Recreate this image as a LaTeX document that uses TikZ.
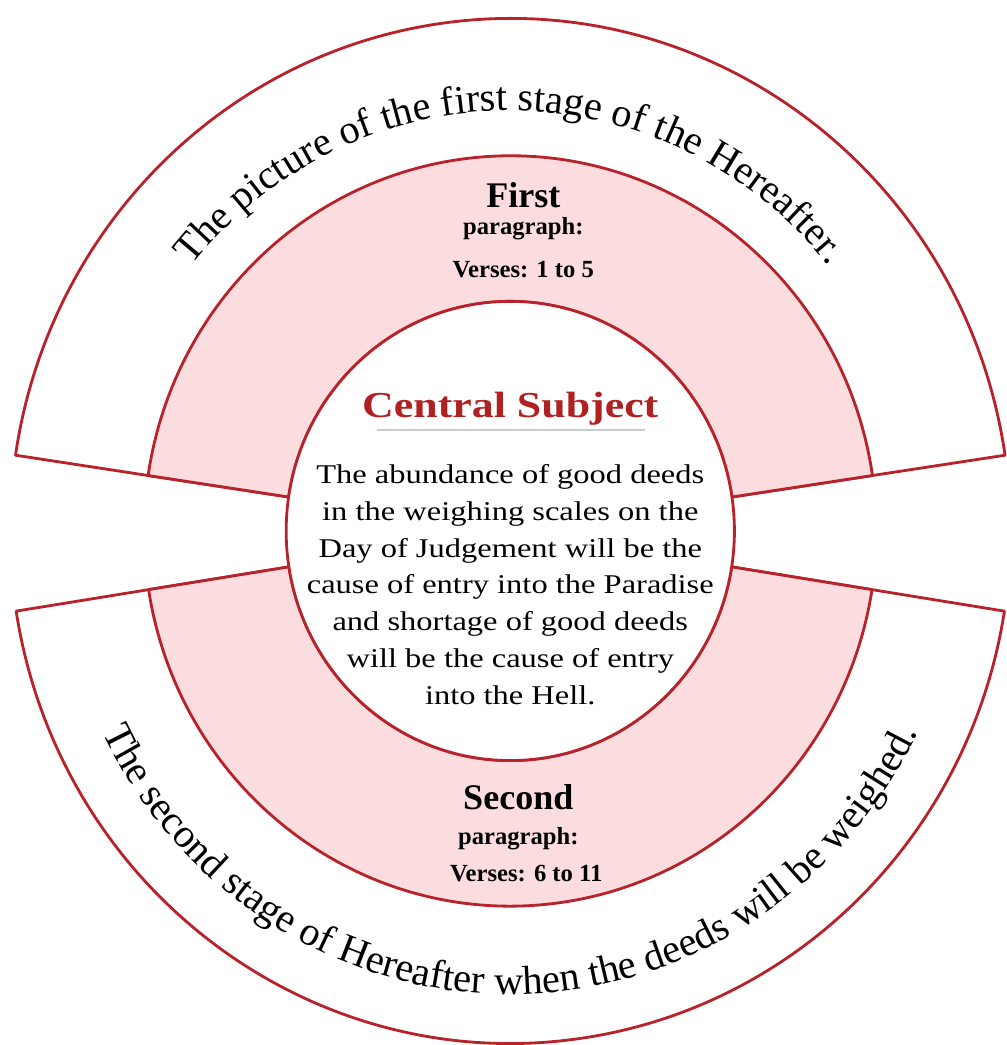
\documentclass[tikz,border=0pt]{standalone}
\usepackage{fontspec}
\setmainfont{Liberation Serif}
\newfontfamily\widefont{Liberation Serif}[FakeStretch=1.2]
\usetikzlibrary{decorations.text}

\definecolor{ringred}{RGB}{184,34,42}
\definecolor{ringpink}{RGB}{252,221,223}
\definecolor{titlered}{RGB}{176,34,34}
\newcommand\arcfont{\fontsize{23}{23}\selectfont}

\tikzset{
    ringline/.style={draw=ringred, line width=1.6pt, line join=round},
    whiteband/.style={ringline, fill=white},
    pinkband/.style={ringline, fill=ringpink},
    bandhead/.style={font=\bfseries\fontsize{20.5}{20.5}\selectfont, anchor=base},
    bandsub/.style={font=\bfseries\fontsize{14}{14}\selectfont, anchor=base},
    arctext/.style={decorate, decoration={text along path, text align=center, text={|\arcfont|#1}}}
}

\begin{document}
\begin{tikzpicture}[x=0.02cm, y=0.0205cm]
        \fill[white] (-510,-501.5) rectangle (496,518);
        \useasboundingbox (-510,-501.5) rectangle (496,518);

        %%%%%%%% Meta' sopra %%%%%%%%
        \draw[whiteband] (8.5:224) -- (8.5:500) arc[start angle=8.5, end angle=171.5, radius=500] -- (171.5:224) arc[start angle=171.5, end angle=8.5, radius=224] -- cycle;
        \draw[pinkband] (8.5:224) -- (8.5:366) arc[start angle=8.5, end angle=171.5, radius=366] -- (171.5:224) arc[start angle=171.5, end angle=8.5, radius=224] -- cycle;

        %%%%%%%% Meta' sotto %%%%%%%%
        \draw[whiteband] (189:224) -- (189:500) arc[start angle=189, end angle=351, radius=500] -- (351:224) arc[start angle=351, end angle=189, radius=224] -- cycle;
        \draw[pinkband] (189:224) -- (189:366) arc[start angle=189, end angle=351, radius=366] -- (351:224) arc[start angle=351, end angle=189, radius=224] -- cycle;

        %%%%%%%%% Cerchio %%%%%%%%%
        \draw[whiteband] (0,0) circle (224);

        %%%%%%%%% Centro %%%%%%%%%%
        \node[font=\widefont\bfseries\fontsize{20.8}{20.8}\selectfont, text=titlered, anchor=base] (title) at (0,110.2) {Central Subject};
        \draw[black!20, line width=1pt] (-133,98.5) -- (135,98.5);
        \node[font=\widefont\fontsize{15.4}{20.9}\selectfont, align=center] (summary) at (0,-52.2)
            {The abundance of good deeds\\ in the weighing scales on the\\ Day of Judgement will be the\\ cause of entry into the Paradise\\ and shortage of good deeds\\ will be the cause of entry\\ into the Hell.};

        %%%%%%%% Paragrafi %%%%%%%%
        \node[bandhead] (firsthead) at (13,315.1) {First};
        \node[bandsub] (firstsub) at (13,288.8) {paragraph:};
        \node[bandsub] (firstverses) at (13,246.8) {Verses: 1 to 5};
        \node[bandhead] (secondhead) at (8,-272.2) {Second};
        \node[bandsub] (secondsub) at (8,-306.3) {paragraph:};
        \node[bandsub] (secondverses) at (16,-342.4) {Verses: 6 to 11};

        %%%%%%%%% Archi %%%%%%%%%%
        \path[arctext={The picture of the first stage of the Hereafter.}] (180:410) arc[start angle=180, end angle=0, radius=410];
        \path[arctext={The second stage of Hereafter when the deeds will be weighed.}] (195:452) arc[start angle=195, end angle=345, radius=452];
\end{tikzpicture}
\end{document}
